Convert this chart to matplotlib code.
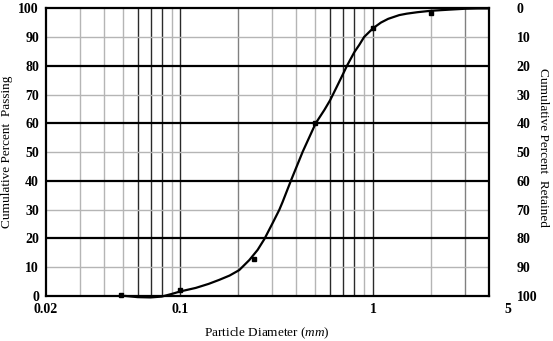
import numpy as np
import matplotlib
matplotlib.use('Agg')
from matplotlib import pyplot as plt
from matplotlib import transforms

plt.rcParams['font.family'] = ['Liberation Serif', 'DejaVu Serif']
plt.rcParams['mathtext.fontset'] = 'custom'
plt.rcParams['mathtext.it'] = 'Liberation Serif:italic'
plt.rcParams['mathtext.rm'] = 'Liberation Serif'

# grading curve
curve_d = [0.052, 0.06, 0.07, 0.08, 0.09, 0.1, 0.12, 0.14, 0.159, 0.18, 0.202,
           0.228, 0.2516, 0.273, 0.301, 0.326, 0.339, 0.376, 0.432, 0.504, 0.56,
           0.6, 0.65, 0.7, 0.733, 0.8, 0.85, 0.9, 1.0, 1.1, 1.2, 1.37, 1.5, 1.7,
           2.0, 2.5, 3.0, 3.5, 3.98]
curve_p = [0.0, -0.4, -0.5, -0.2, 0.7, 1.6, 2.8, 4.2, 5.6, 7.1, 9.0,
           12.5, 16.0, 19.8, 25.3, 29.9, 32.6, 40.3, 50.2, 60.0, 64.7,
           68.1, 72.8, 77.2, 80.0, 84.7, 87.3, 90.0, 93.0, 95.0, 96.3, 97.6,
           98.1, 98.6, 99.1, 99.5, 99.8, 99.9, 99.9]

# measured sieve points
sieve_d = [0.049, 0.1, 0.242, 0.5, 1.0, 2.0]
sieve_p = [0.2, 2.0, 12.8, 60.0, 93.0, 98.5]

# vertical grid lines
dark_lines = [0.06, 0.07, 0.08, 0.1, 0.6, 0.7, 0.8, 1.0, 4.0]
mid_lines = [0.2, 3.0]
light_lines = [0.03, 0.04, 0.05, 0.09, 0.3, 0.4, 0.5, 0.9, 2.0]
x_ticks = [0.02, 0.1, 1]
x_tick_labels = ['0.02', '0.1', '1']
y_ticks = [0, 10, 20, 30, 40, 50, 60, 70, 80, 90, 100]

fig = plt.figure(figsize=(5.53, 3.41), dpi=100)
ax = fig.add_axes([0.083, 0.132, 0.801, 0.844])
ax.set_xscale('log')
ax.set_xlim(0.02, 4)
ax.set_ylim(0, 100)

for v in light_lines:
    ax.axvline(v, color='#b5b5b5', lw=1.0, zorder=1)
for v in mid_lines:
    ax.axvline(v, color='#808080', lw=1.0, zorder=1)
for v in dark_lines:
    ax.axvline(v, color='#2a2a2a', lw=1.0, zorder=1)
for v in y_ticks:
    if v in (0, 100):
        continue
    if v % 20 == 0:
        ax.axhline(v, color='black', lw=1.6, zorder=2)
    else:
        ax.axhline(v, color='#b5b5b5', lw=1.0, zorder=1)

ax.plot(curve_d, curve_p, color='black', lw=1.6, zorder=4, clip_on=False)
ax.plot(sieve_d, sieve_p, 's', color='black', ms=3.2, zorder=5, clip_on=False)

for s in ax.spines.values():
    s.set_linewidth(1.6)
    s.set_color('black')

ax.set_xticks(x_ticks)
ax.set_xticklabels(x_tick_labels)
ax.xaxis.set_minor_locator(matplotlib.ticker.NullLocator())
ax.set_yticks(y_ticks)
ax.tick_params(length=0, labelsize=10, pad=5)
for lab in ax.get_xticklabels() + ax.get_yticklabels():
    lab.set_fontweight('bold')

# the '5' label sits past the right edge of the frame
trans = transforms.blended_transform_factory(ax.transData, ax.transAxes)
ax.annotate('5', xy=(5, 0), xycoords=trans, xytext=(0, -5), textcoords='offset points',
            ha='center', va='top', fontsize=10, fontweight='bold', annotation_clip=False)

ax2 = ax.twinx()
ax2.set_ylim(100, 0)
ax2.set_yticks(y_ticks)
ax2.tick_params(length=0, labelsize=10, pad=20)
for lab in ax2.get_yticklabels():
    lab.set_fontweight('bold')
for s in ax2.spines.values():
    s.set_visible(False)

ax.set_ylabel('Cumulative Percent  Passing', fontsize=9.5, labelpad=4)
fig.text(543 / 553, 1 - 147 / 341, 'Cumulative Percent  Retained', fontsize=9.5,
         rotation=270, ha='center', va='center')
ax.set_xlabel(r'Particle Diameter ($\mathit{mm}$)', fontsize=9.5, labelpad=7)

fig.savefig('out.png', dpi=100)
